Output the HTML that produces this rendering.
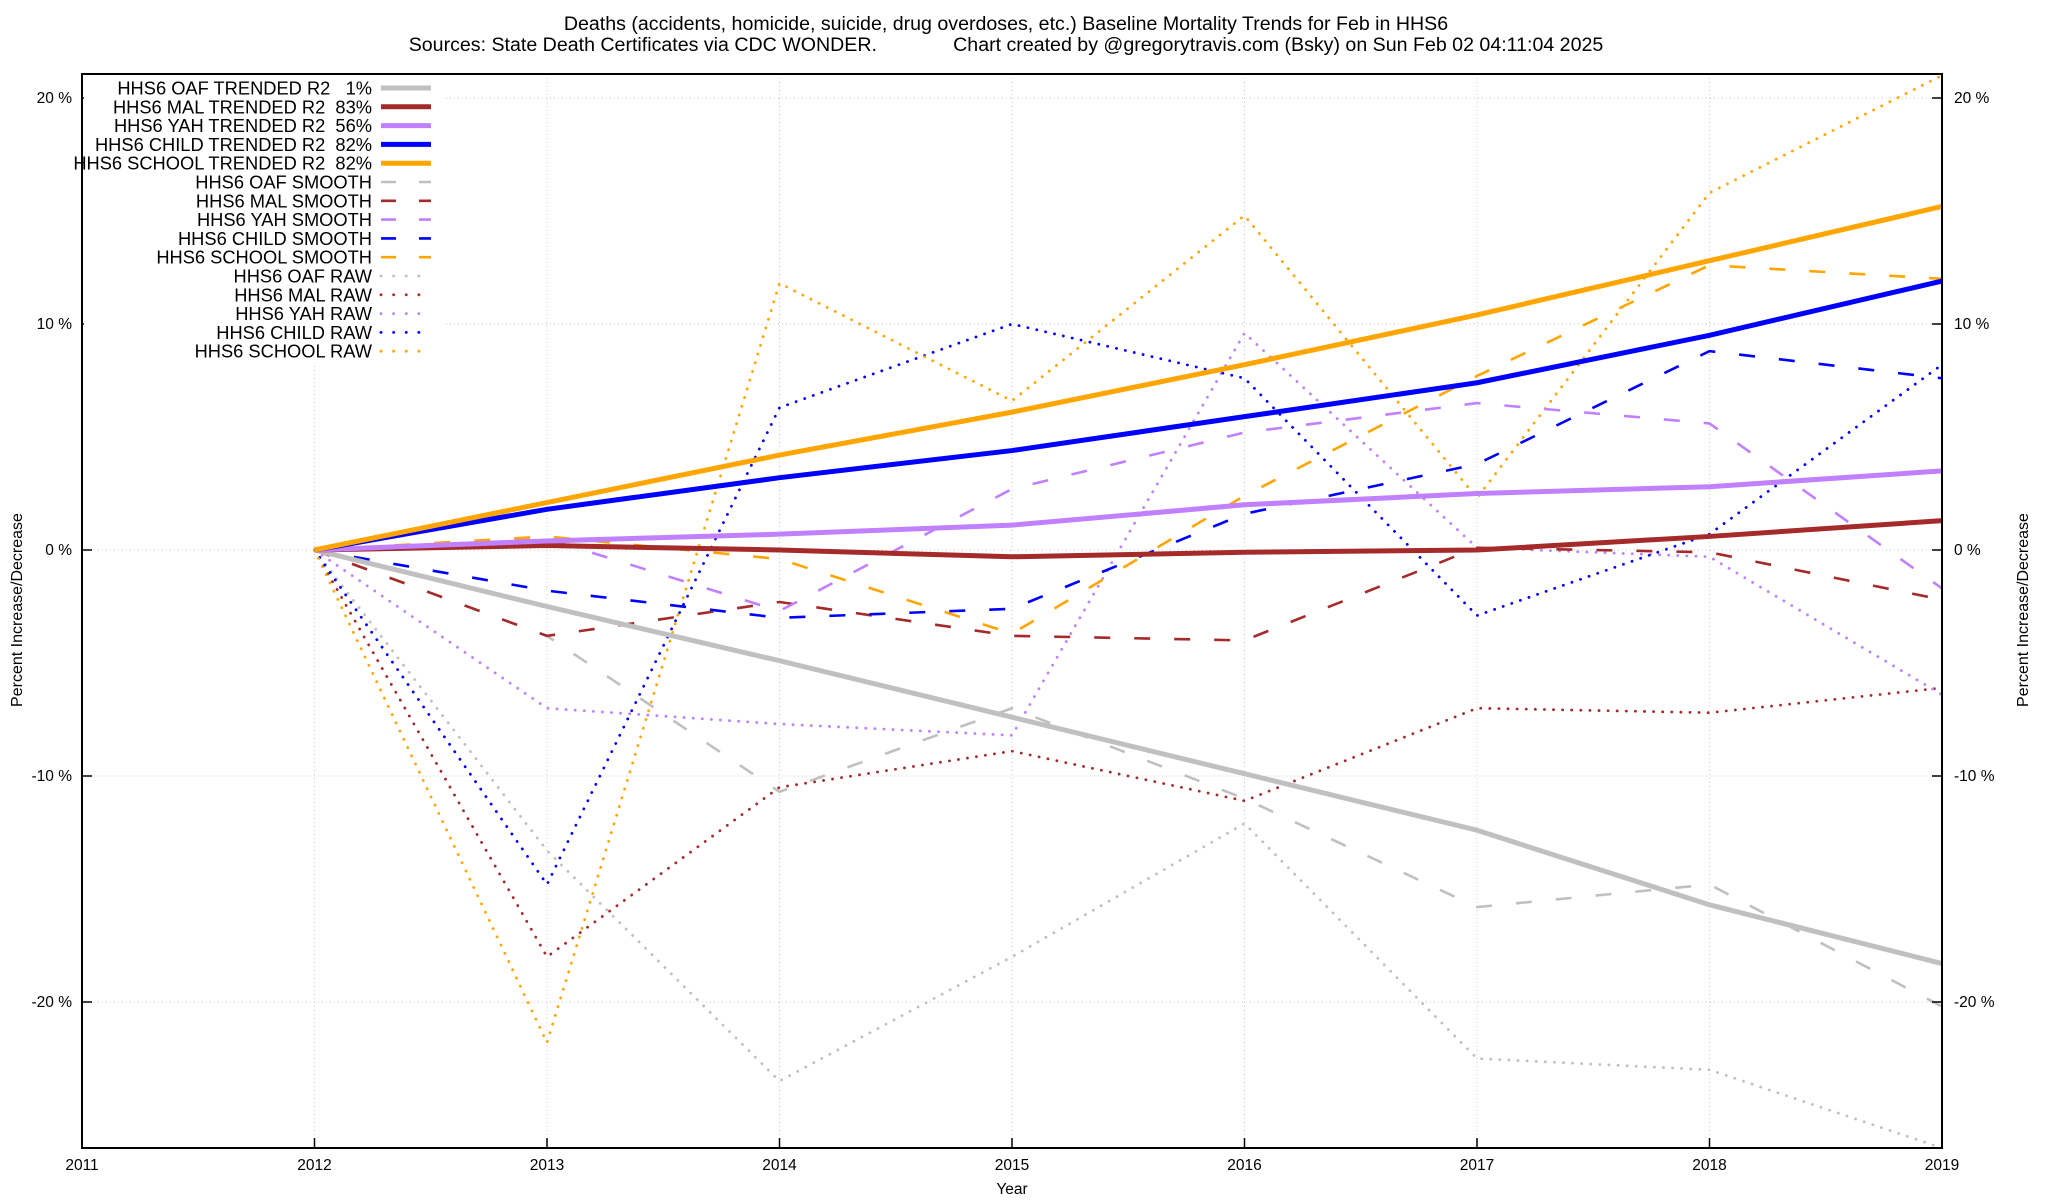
<!DOCTYPE html>
<html><head><meta charset="utf-8"><style>
html,body{margin:0;padding:0;background:#fff}
svg{display:block;font-family:"Liberation Sans",sans-serif}
</style></head><body>
<svg id="chart" width="2048" height="1200" viewBox="0 0 2048 1200" xmlns="http://www.w3.org/2000/svg">
<rect width="2048" height="1200" fill="#fff"/>
<text x="1006" y="30" font-size="19.6" text-anchor="middle">Deaths (accidents, homicide, suicide, drug overdoses, etc.)  Baseline Mortality Trends for Feb in HHS6</text>
<text x="1006" y="51" font-size="19.6" text-anchor="middle" style="white-space:pre" xml:space="preserve">Sources: State Death Certificates via CDC WONDER.              Chart created by @gregorytravis.com (Bsky) on Sun Feb 02 04:11:04 2025</text>
<g id="grid"></g>
<g id="series"></g>
<g id="axes"></g>
<g id="legend"></g>
<text x="1012" y="1194" font-size="15.5" text-anchor="middle">Year</text>
<text transform="translate(22,610) rotate(-90)" font-size="16" text-anchor="middle">Percent Increase/Decrease</text>
<text transform="translate(2028,610) rotate(-90)" font-size="16" text-anchor="middle">Percent Increase/Decrease</text>
</svg>
<script>
const years = [2012,2013,2014,2015,2016,2017,2018,2019];
const xTicks = [2011,2012,2013,2014,2015,2016,2017,2018,2019];
const yTicks = [20,10,0,-10,-20];
const yTickLabels = ["20 %","10 %","0 %","-10 %","-20 %"];

const oafTrend    = [0,-2.5,-4.9,-7.4,-9.9,-12.4,-15.7,-18.3];
const malTrend    = [0,0.2,0,-0.3,-0.1,0,0.6,1.3];
const yahTrend    = [0,0.4,0.7,1.1,2.0,2.5,2.8,3.5];
const childTrend  = [0,1.8,3.2,4.4,5.9,7.4,9.5,11.9];
const schoolTrend = [0,2.1,4.2,6.1,8.2,10.4,12.8,15.2];

const oafSmooth    = [0,-3.8,-10.7,-7.0,-11.0,-15.8,-14.8,-20.2];
const malSmooth    = [0,-3.8,-2.3,-3.8,-4.0,0.1,-0.1,-2.2];
const yahSmooth    = [0,0.5,-2.7,2.7,5.2,6.5,5.6,-1.7];
const childSmooth  = [0,-1.8,-3.0,-2.6,1.6,3.8,8.8,7.6];
const schoolSmooth = [0,0.6,-0.4,-3.7,2.4,7.7,12.6,12.0];

const oafRaw    = [0,-13.3,-23.5,-18.0,-12.1,-22.5,-23.0,-26.5];
const malRaw    = [0,-18.0,-10.5,-8.9,-11.1,-7.0,-7.2,-6.1];
const yahRaw    = [0,-7.0,-7.7,-8.2,9.6,0.1,-0.3,-6.4];
const childRaw  = [0,-14.8,6.3,10.0,7.6,-2.9,0.7,8.2];
const schoolRaw = [0,-21.8,11.8,6.6,14.8,2.3,15.8,21.0];

const NS="http://www.w3.org/2000/svg";
const L=82,R=1942,T=74,B=1148;
const X=y=>L+(y-2011)*(R-L)/8;
const Y=v=>550-v*22.6;
function mk(tag,attrs,parent){const e=document.createElementNS(NS,tag);for(const k in attrs)e.setAttribute(k,attrs[k]);parent.appendChild(e);return e;}
const grid=document.getElementById('grid'),ser=document.getElementById('series'),ax=document.getElementById('axes'),leg=document.getElementById('legend');

xTicks.forEach((t,i)=>{
  if(i>0&&i<xTicks.length-1){const g=mk('line',{x1:X(t),x2:X(t),y1:T,y2:B,stroke:'#c8c8c8','stroke-width':1,'stroke-dasharray':'1 3'},grid);
  
  }
  const tk=mk('line',{x1:X(t),x2:X(t),y1:B,y2:B-10,stroke:'#000','stroke-width':1.5},ax);
  
  
  const lb=mk('text',{x:X(t),y:B+22,'font-size':15.5,'text-anchor':'middle'},ax);lb.textContent=t;
  
  
});
yTicks.forEach((v,i)=>{
  const g=mk('line',{x1:L,x2:R,y1:Y(v),y2:Y(v),stroke:'#c8c8c8','stroke-width':1,'stroke-dasharray':'1 3'},grid);
  
  
  mk('line',{x1:L,x2:L+10,y1:Y(v),y2:Y(v),stroke:'#000','stroke-width':1.5},ax);
  mk('line',{x1:R,x2:R-10,y1:Y(v),y2:Y(v),stroke:'#000','stroke-width':1.5},ax);
  const a=mk('text',{x:L-10,y:Y(v)+5,'font-size':15.5,'text-anchor':'end'},ax);a.textContent=yTickLabels[i];
  
  
  const b=mk('text',{x:R+12,y:Y(v)+5,'font-size':15.5},ax);b.textContent=yTickLabels[i];
  
  
});
const frame=mk('rect',{x:L,y:T,width:R-L,height:B-T,fill:'none',stroke:'#000','stroke-width':2},ax);



const C={oaf:'#c0c0c0',mal:'#a52a2a',yah:'#c080ff',child:'#0000ff',school:'#ffa500'};
const styles={trend:{w:5,d:'',cap:'butt'},smooth:{w:2.6,d:'16 24',cap:'butt'},raw:{w:2.8,d:'0.1 9',cap:'round'}};
const series=[
 ['HHS6 OAF TRENDED R2   1%',oafTrend,C.oaf,'trend','oaf-trended-line'],
 ['HHS6 MAL TRENDED R2  83%',malTrend,C.mal,'trend','mal-trended-line'],
 ['HHS6 YAH TRENDED R2  56%',yahTrend,C.yah,'trend','yah-trended-line'],
 ['HHS6 CHILD TRENDED R2  82%',childTrend,C.child,'trend','child-trended-line'],
 ['HHS6 SCHOOL TRENDED R2  82%',schoolTrend,C.school,'trend','school-trended-line'],
 ['HHS6 OAF SMOOTH',oafSmooth,C.oaf,'smooth','oaf-smooth-line'],
 ['HHS6 MAL SMOOTH',malSmooth,C.mal,'smooth','mal-smooth-line'],
 ['HHS6 YAH SMOOTH',yahSmooth,C.yah,'smooth','yah-smooth-line'],
 ['HHS6 CHILD SMOOTH',childSmooth,C.child,'smooth','child-smooth-line'],
 ['HHS6 SCHOOL SMOOTH',schoolSmooth,C.school,'smooth','school-smooth-line'],
 ['HHS6 OAF RAW',oafRaw,C.oaf,'raw','oaf-raw-line'],
 ['HHS6 MAL RAW',malRaw,C.mal,'raw','mal-raw-line'],
 ['HHS6 YAH RAW',yahRaw,C.yah,'raw','yah-raw-line'],
 ['HHS6 CHILD RAW',childRaw,C.child,'raw','child-raw-line'],
 ['HHS6 SCHOOL RAW',schoolRaw,C.school,'raw','school-raw-line']
];
const drawOrder=[10,11,12,13,14,5,6,7,8,9,0,1,2,3,4];
drawOrder.forEach(i=>{
  const [name,vals,col,st,dn]=series[i];const s=styles[st];
  const pts=vals.map((v,j)=>{const yy=Math.max(T,Math.min(B,Y(v)));return X(years[j])+','+yy;}).join(' ');
  const p=mk('polyline',{points:pts,fill:'none',stroke:col,'stroke-width':s.w,'stroke-linecap':s.cap,'stroke-linejoin':'round'},ser);
  if(s.d)p.setAttribute('stroke-dasharray',s.d);
  
  
});
const lb=mk('rect',{x:L+2,y:T+2,width:360,height:290,fill:'#fff'},leg);


series.forEach((s,i)=>{
  const [name,vals,col,st,dn]=s;const y=88+i*18.8;const sty=styles[st];
  const t=mk('text',{x:372,y:y+6.5,'font-size':18.3,'text-anchor':'end','xml:space':'preserve'},leg);
  t.style.whiteSpace='pre';t.textContent=name;
  
  
  const ln=mk('line',{x1:381,x2:431,y1:y,y2:y,stroke:col,'stroke-width':sty.w,'stroke-linecap':sty.cap},leg);
  if(st==='smooth')ln.setAttribute('stroke-dasharray','15 23');
  if(st==='raw')ln.setAttribute('stroke-dasharray','0.1 12.5');
  
  
});
</script>
</body></html>
